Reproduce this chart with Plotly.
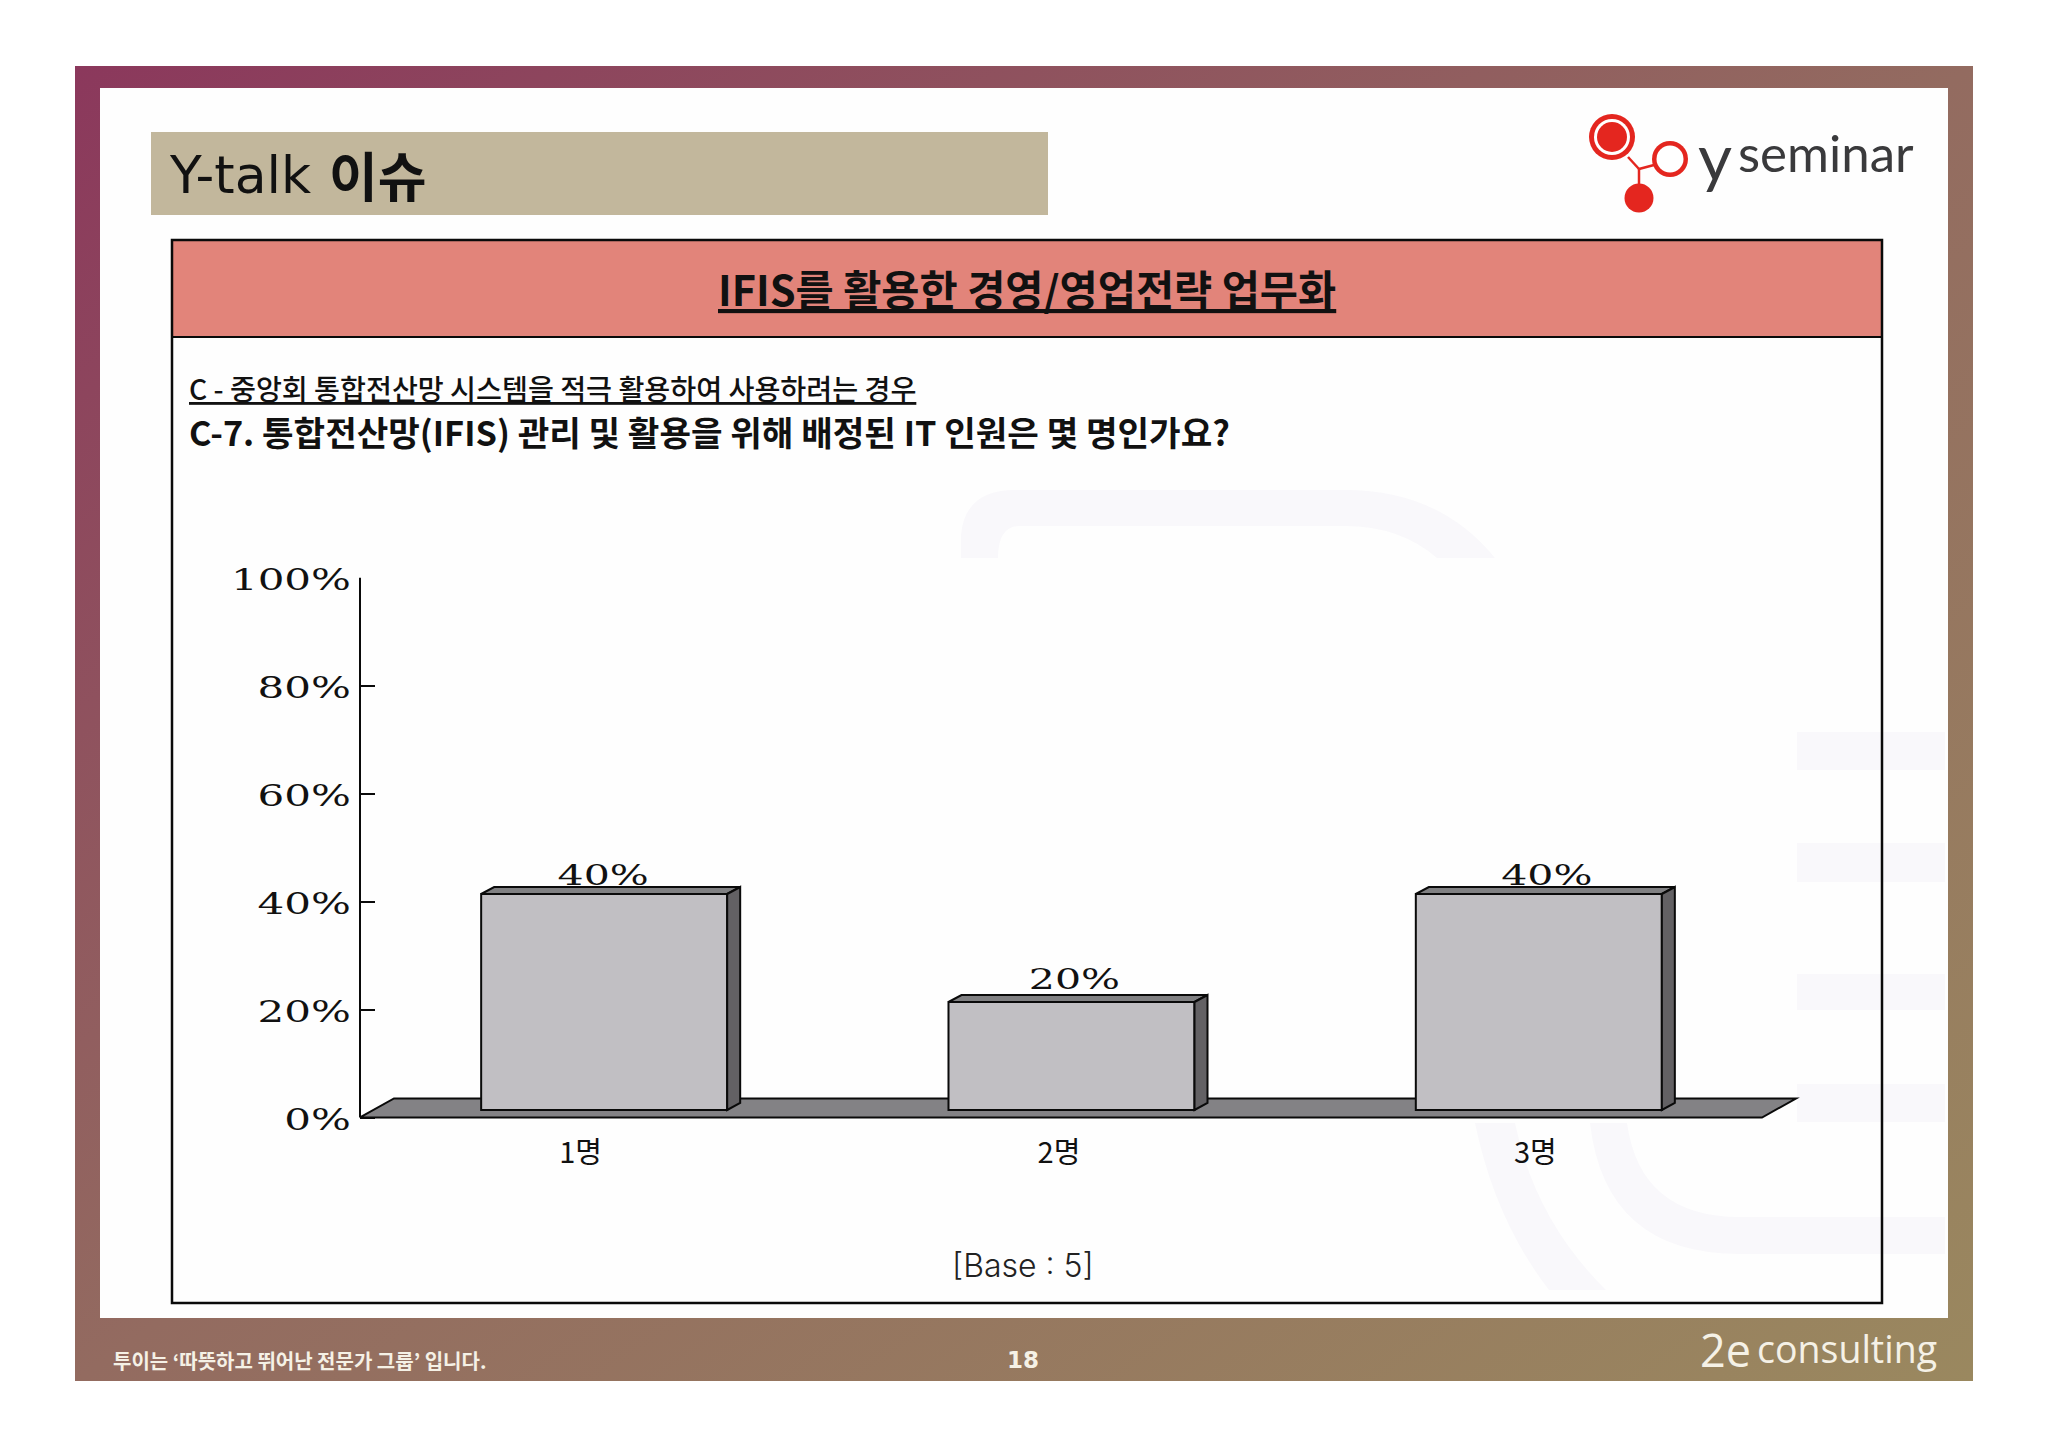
import base64
import plotly.graph_objects as go

# chart data
categories = ["1명", "2명", "3명"]
values = [40, 20, 40]
value_labels = ["40%", "20%", "40%"]
y_ticks = [0, 20, 40, 60, 80, 100]
y_tick_labels = ["0%", "20%", "40%", "60%", "80%", "100%"]

W, H = 2048, 1447
KR = "Noto Sans CJK KR"


def X(px):
    return px / W


def Y(py):
    return 1 - py / H


# plot scale: one category = 467.3px, one percent = 5.4px
x_unit = 467.3
y_unit = 5.4
x_pos = list(range(len(categories)))
bar_w = 246 / x_unit
bar_shift = 10.5 / x_unit
base_lift = 7.5 / y_unit
dx = 13 / x_unit
dy = 7 / y_unit
floor_dx = 34 / x_unit
floor_dy = 19 / y_unit
x_min, x_max = -0.5, 2.5 + 38 / x_unit
y_min, y_max = -1.2, 100

BLACK = "#0a0a0a"
fig = go.Figure()

# front faces
fig.add_trace(go.Bar(
    x=[p + bar_shift for p in x_pos], y=values, base=base_lift, width=bar_w,
    marker=dict(color="#c1bfc3", line=dict(color=BLACK, width=2)),
    showlegend=False,
))

# top and side faces of the 3d boxes, worked out from the values
for p, v in zip(x_pos, values):
    xl = p + bar_shift - bar_w / 2
    xr = p + bar_shift + bar_w / 2
    top = base_lift + v
    fig.add_trace(go.Scatter(
        x=[xl, xl + dx, xr + dx, xr, xl], y=[top, top + dy, top + dy, top, top],
        mode="lines", fill="toself", fillcolor="#808082",
        line=dict(color=BLACK, width=2), showlegend=False,
    ))
    fig.add_trace(go.Scatter(
        x=[xr, xr + dx, xr + dx, xr, xr],
        y=[top, top + dy, base_lift + dy, base_lift, top],
        mode="lines", fill="toself", fillcolor="#636164",
        line=dict(color=BLACK, width=2), showlegend=False,
    ))

# value labels, nudged a little like the original
fig.add_trace(go.Scatter(
    x=[x_pos[0] + bar_shift - 1 / x_unit, x_pos[1] + bar_shift + 3 / x_unit, x_pos[2] + bar_shift + 8 / x_unit],
    y=[base_lift + values[0] + dy - 0.85, base_lift + values[1] + dy - 0.2, base_lift + values[2] + dy - 0.85],
    mode="text", text=value_labels, textposition="top center",
    textfont=dict(family="DejaVu Serif", size=27, color="#111111"),
    showlegend=False,
))

fig.update_xaxes(
    domain=[X(360), X(1800)], range=[x_min, x_max], showgrid=False, zeroline=False,
    automargin=False, showline=False, ticks="outside", ticklen=3, tickcolor="rgba(0,0,0,0)",
    tickmode="array",
    tickvals=[x_pos[0] - 13 / x_unit, x_pos[1] - 2 / x_unit, x_pos[2] + 7 / x_unit],
    ticktext=categories, tickfont=dict(family=KR, size=29, color="#111111"),
)
fig.update_yaxes(
    domain=[Y(1117.5 - y_min * y_unit), Y(577.5)], range=[y_min, y_max], showgrid=False,
    automargin=False, zeroline=False, showline=False, ticks="inside", ticklen=15, tickwidth=2,
    tickcolor=BLACK, tickmode="array", tickvals=y_ticks, ticktext=y_tick_labels,
    ticklabelstandoff=8, tickfont=dict(family="DejaVu Serif", size=30, color="#111111"),
)

# frame gradient
svg = (
    '<svg xmlns="http://www.w3.org/2000/svg" width="1898" height="1315">'
    '<defs><linearGradient id="g" x1="0" y1="0" x2="1" y2="1">'
    '<stop offset="0" stop-color="#8b385c"/><stop offset="0.5" stop-color="#936b60"/>'
    '<stop offset="1" stop-color="#9a885f"/></linearGradient></defs>'
    '<rect width="1898" height="1315" fill="url(#g)"/></svg>'
)
fig.add_layout_image(
    source="data:image/svg+xml;base64," + base64.b64encode(svg.encode()).decode(),
    xref="paper", yref="paper", x=X(75), y=Y(66), sizex=1898 / W, sizey=1315 / H,
    sizing="stretch", xanchor="left", yanchor="top", layer="below",
)


def rect(x0, y0, x1, y1, fill, line=None, lw=0, layer="below"):
    fig.add_shape(type="rect", xref="paper", yref="paper", x0=X(x0), x1=X(x1), y0=Y(y0), y1=Y(y1),
                  fillcolor=fill, line=dict(color=line or "rgba(0,0,0,0)", width=lw), layer=layer)


def circle(cx, cy, r, fill):
    fig.add_shape(type="circle", xref="paper", yref="paper", x0=X(cx - r), x1=X(cx + r),
                  y0=Y(cy - r), y1=Y(cy + r), fillcolor=fill, line=dict(width=0), layer="below")


def seg(x0, y0, x1, y1, color, width):
    fig.add_shape(type="line", xref="paper", yref="paper", x0=X(x0), x1=X(x1), y0=Y(y0), y1=Y(y1),
                  line=dict(color=color, width=width), layer="below")


def wm_path(points):
    # watermark outlines in page pixels
    d = ""
    for cmd, coords in points:
        d += cmd + " ".join(f"{X(a):.5f},{Y(b):.5f}" for a, b in coords) + " "
    fig.add_shape(type="path", xref="paper", yref="paper", path=d + "Z",
                  fillcolor=WM, line=dict(width=0), layer="below")


# page body
rect(100, 88, 1948, 1318, "#fefefe")

# pale watermark behind the chart
WM = "#f9f8fb"
wm_path([("M", [(961, 558)]), ("L", [(961, 535)]), ("Q", [(965, 490), (1015, 490)]),
         ("L", [(1345, 490)]), ("Q", [(1440, 490), (1495, 558)]), ("L", [(1437, 558)]),
         ("Q", [(1400, 526), (1345, 526)]), ("L", [(1020, 526)]), ("Q", [(998, 526), (998, 558)])])
for y0, y1 in [(732, 770), (843, 882), (974, 1010), (1084, 1122)]:
    rect(1797, y0, 1945, y1, WM)
wm_path([("M", [(1475, 1123)]), ("Q", [(1495, 1220), (1549, 1290)]), ("L", [(1606, 1290)]),
         ("Q", [(1535, 1220), (1515, 1123)])])
wm_path([("M", [(1590, 1123)]), ("Q", [(1605, 1254), (1740, 1254)]), ("L", [(1945, 1254)]),
         ("L", [(1945, 1217)]), ("L", [(1740, 1217)]), ("Q", [(1640, 1217), (1627, 1123)])])

# title strip and content box
rect(151, 132, 1048, 215, "#c2b79c")
rect(172, 240, 1882, 337, "#e2847a")
rect(172, 240, 1882, 1303, "rgba(0,0,0,0)", line=BLACK, lw=2.5)
seg(172, 337, 1882, 337, BLACK, 2)

# y seminar logo
RED = "#e4261f"
seg(1628, 157, 1639, 169, RED, 2.5)
seg(1639, 169, 1654, 165, RED, 2.5)
seg(1639, 169, 1639, 186, RED, 2.5)
circle(1612, 137, 23, RED)
circle(1612, 137, 18, "#ffffff")
circle(1612, 137, 15, RED)
circle(1670, 159, 18, RED)
circle(1670, 159, 13.5, "#ffffff")
circle(1639, 198, 14.5, RED)

# floor of the 3d chart and value axis line
fig.add_shape(
    type="path", xref="x", yref="y", layer="below",
    path=f"M {x_min},0 L {x_min + floor_dx},{floor_dy} L {2.5 + floor_dx},{floor_dy} L 2.5,0 Z",
    fillcolor="#838285", line=dict(color=BLACK, width=2),
)
fig.add_shape(type="line", xref="paper", yref="y", x0=X(360), x1=X(360), y0=0, y1=y_max,
              line=dict(color=BLACK, width=2))


def note(text, x, y, size, family=KR, color="#111111", anchor="left", **font):
    fig.add_annotation(text=text, xref="paper", yref="paper", x=X(x), y=Y(y), showarrow=False,
                       xanchor=anchor, yanchor="middle", align=anchor,
                       font=dict(family=family, size=size, color=color, **font))


note("Y-talk", 167, 175, 52, family="DejaVu Sans")
note("<b>이슈</b>", 327, 174, 53)
note("y", 1696, 156, 66, family="Lato", color="#3a3a3c")
note("seminar", 1736, 152.5, 51, family="Lato", color="#3a3a3c")
note("<b>IFIS를 활용한 경영/영업전략 업무화</b>", 1027, 288, 41.5, anchor="center", lineposition="under")
note("C - 중앙회 통합전산망 시스템을 적극 활용하여 사용하려는 경우", 187, 387, 28.2, lineposition="under", weight=500)
note("<b>C-7. 통합전산망(IFIS) 관리 및 활용을 위해 배정된 IT 인원은 몇 명인가요?</b>", 187, 431, 34.3)
note("[Base : 5]", 1023, 1265, 32, family="Inter", color="#222222", anchor="center", weight=300)
note("<b>투이는 ‘따뜻하고 뛰어난 전문가 그룹’ 입니다.</b>", 111, 1360, 20, color="#f5f1e6")
note("<b>18</b>", 1023, 1360, 23, family="DejaVu Sans", color="#f5f1e6", anchor="center")
note("2e", 1698, 1349, 45, family="Open Sans", color="#f5f1e6")
note("consulting", 1754.5, 1348, 37.5, family="Open Sans", color="#f5f1e6")

fig.update_layout(
    width=W, height=H, margin=dict(l=0, r=0, t=0, b=0), autosize=False,
    paper_bgcolor="#ffffff", plot_bgcolor="rgba(0,0,0,0)", showlegend=False, barmode="overlay",
)

# the percent labels in the original use a very wide serif, so stretch them sideways
widen = """
document.body.style.margin = '0';
function widen() {
  [['.ytick text', 1.4, 2], ['.textpoint text', 1.52, 0]].forEach(function (r) {
    document.querySelectorAll(r[0]).forEach(function (t) {
      if (t.hasAttribute('textLength')) return;
      t.setAttribute('lengthAdjust', 'spacingAndGlyphs');
      t.setAttribute('textLength', t.getComputedTextLength() * r[1]);
      t.setAttribute('dy', r[2]);
    });
  });
}
widen();
setTimeout(widen, 300);
"""
fig.write_html("out.html", post_script=widen, config={"displayModeBar": False})
